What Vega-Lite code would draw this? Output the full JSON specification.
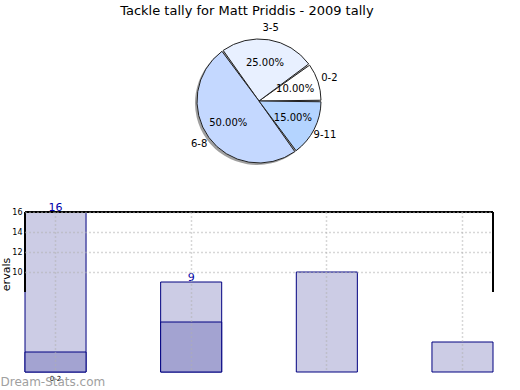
{
  "$schema": "https://vega.github.io/schema/vega-lite/v6.json",
  "padding": {"top": 5, "left": 0, "right": 0, "bottom": 0},
  "bounds": "flush",
  "spacing": 31,
  "title": {"text": "Tackle tally for Matt Priddis - 2009 tally", "fontSize": 13, "fontWeight": "normal", "anchor": "middle", "offset": 3, "color": "#000"},
  "config": {"view": {"stroke": null}, "font": "DejaVu Sans", "axis": {"labelColor": "#000", "titleColor": "#000"}},
  "datasets": {
    "pie": [
      {"bucket": "0-2", "share": 0.10},
      {"bucket": "3-5", "share": 0.25},
      {"bucket": "6-8", "share": 0.50},
      {"bucket": "9-11", "share": 0.15}
    ],
    "bars": [
      {"bucket": "0-2", "total": 16, "part": 2},
      {"bucket": "3-5", "total": 9, "part": 5},
      {"bucket": "6-8", "total": 10, "part": 0},
      {"bucket": "9-11", "total": 3, "part": 0}
    ]
  },
  "vconcat": [
    {
      "width": 468,
      "height": 160,
      "data": {"name": "pie"},
      "encoding": {
        "theta": {"field": "share", "type": "quantitative", "stack": true, "scale": {"range": [1.5708, -4.7124]}},
        "order": {"field": "bucket", "type": "ordinal", "sort": "ascending"}
      },
      "layer": [
        {"mark": {"type": "arc", "outerRadius": 62, "fill": "#777777", "opacity": 0.7, "xOffset": -2, "yOffset": 2}},
        {
          "mark": {"type": "arc", "outerRadius": 62, "stroke": "#222222", "strokeWidth": 1, "padAngle": 0.025},
          "encoding": {
            "color": {"field": "bucket", "type": "nominal", "legend": null,
              "scale": {"domain": ["0-2", "3-5", "6-8", "9-11"], "range": ["#ffffff", "#e8f0ff", "#c4d8ff", "#b4d4ff"]}}
          }
        },
        {"mark": {"type": "text", "radius": 38, "fontSize": 10, "color": "#000"}, "encoding": {"text": {"field": "share", "type": "quantitative", "format": ".2%"}}},
        {"mark": {"type": "text", "radius": 74, "fontSize": 10, "color": "#000"}, "encoding": {"text": {"field": "bucket", "type": "nominal"}}}
      ]
    },
    {
      "width": 468,
      "height": 160,
      "data": {"name": "bars"},
      "resolve": {"scale": {"x": "independent"}},
      "layer": [
        {
          "encoding": {
            "x": {"field": "bucket", "type": "nominal", "sort": null,
              "scale": {"paddingInner": 0.55, "paddingOuter": 0},
              "axis": {"title": "Dream-Stats.com", "labelAngle": 0, "labelExpr": "datum.value == '0-2' ? datum.label : ''",
                "grid": true, "gridDash": [1, 3], "gridColor": "#b0b0b0", "gridWidth": 1.5, "domain": false, "ticks": false,
                "labelFontSize": 7, "labelPadding": 2, "zindex": 1,
                "titleAnchor": "start", "titleAlign": "left", "titleBaseline": "bottom", "titleX": -25, "titleY": 16,
                "titleFontSize": 12, "titleColor": "#a0a0a0", "titleFontWeight": "normal"}},
            "y": {"field": "total", "type": "quantitative", "scale": {"domain": [0, 16]},
              "axis": {"title": "ervals", "values": [10, 12, 14, 16], "grid": true, "gridDash": [1, 3], "gridColor": "#b0b0b0", "gridWidth": 1.5,
                "domain": false, "ticks": false, "labelFontSize": 8, "labelPadding": 3, "zindex": 1,
                "titleFontSize": 11, "titleFontWeight": "normal", "titleX": -14, "titleY": 62}}
          },
          "layer": [
            {"mark": {"type": "bar", "fill": "#ccccE5", "stroke": "#000080", "strokeWidth": 1}},
            {
              "transform": [{"filter": "datum.part > 0"}],
              "mark": {"type": "bar", "fill": "#a3a3d1", "stroke": "#000080", "strokeWidth": 1},
              "encoding": {"y": {"field": "part", "type": "quantitative"}}
            },
            {
              "transform": [{"filter": "datum.bucket == '0-2' || datum.bucket == '3-5'"}],
              "mark": {"type": "text", "baseline": "bottom", "fontSize": 11, "color": "#0000aa", "dy": 1},
              "encoding": {"text": {"field": "total", "type": "quantitative"}}
            }
          ]
        },
        {
          "layer": [
            {"mark": {"type": "rule", "color": "#000", "strokeWidth": 1.5}, "encoding": {"y": {"datum": 16}}},
            {"mark": {"type": "rule", "color": "#000", "strokeWidth": 1.5},
              "encoding": {"x": {"datum": 0, "type": "quantitative", "scale": {"domain": [0, 1]}, "axis": null}, "y": {"datum": 8}, "y2": {"datum": 16}}},
            {"mark": {"type": "rule", "color": "#000", "strokeWidth": 1.5},
              "encoding": {"x": {"datum": 1, "type": "quantitative", "scale": {"domain": [0, 1]}, "axis": null}, "y": {"datum": 8}, "y2": {"datum": 16}}}
          ]
        }
      ]
    }
  ]
}
